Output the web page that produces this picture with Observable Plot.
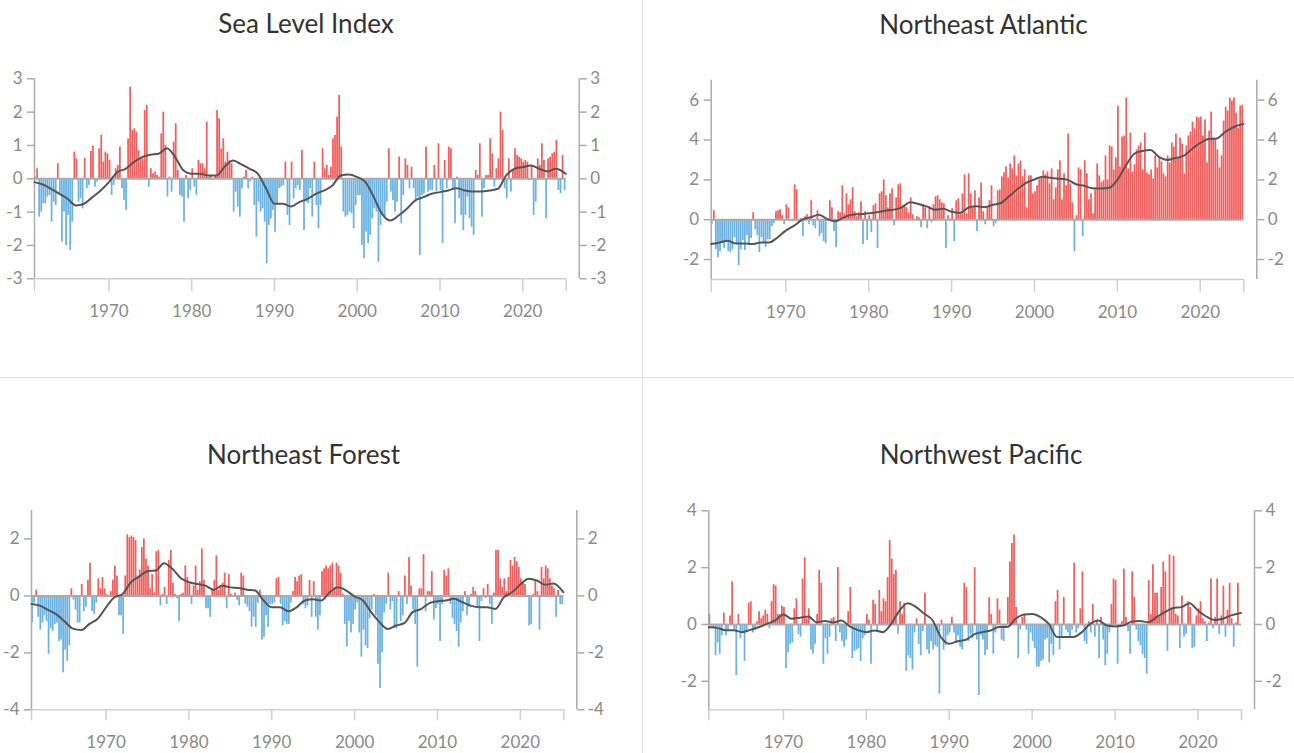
<!DOCTYPE html>
<html><head><meta charset="utf-8">
<script src="https://cdn.jsdelivr.net/npm/d3@7"></script>
<script src="https://cdn.jsdelivr.net/npm/@observablehq/plot@0.6"></script>
<style>
body{margin:0;background:#fff;font-family:Lato,"Open Sans",sans-serif;}
#root{position:relative;width:1294px;height:753px;overflow:hidden;background:#fff;}
.panel{position:absolute;}
.title{position:absolute;font-size:26px;color:#333;line-height:1;white-space:nowrap;transform:translateX(-50%);font-family:Lato,sans-serif;}
.vdiv{position:absolute;left:642px;top:0;width:1px;height:753px;background:#e2e2e2;}
.hdiv{position:absolute;left:0;top:377px;width:1294px;height:1px;background:#e2e2e2;}
</style></head><body><div id="root"><div class="vdiv"></div><div class="hdiv"></div></div>
<script>
// ---------- data ----------
const startYear = 1961;            // first season bar: 1961, 4 seasons per year
const xDomain = [1961, 2025.25];
const xTicks = [1961, 1970, 1980, 1990, 2000, 2010, 2020, 2025.25];
const titles = ["Sea Level Index", "Northeast Atlantic", "Northeast Forest", "Northwest Pacific"];

const sliValues = [
 0.05,0.3,-1.15,-1.0, -0.75,-0.75,-0.55,-0.5, -1.3,-0.7,-0.8,0.45, -0.45,-1.9,-1.0,-2.0,
 -1.1,-2.15,-1.3,0.8, 0.6,-0.7,-0.6,-0.9, 0.62,-0.3,-0.2,0.82, 0.98,-0.25,-0.1,0.9,
 1.3,0.5,0.8,0.75, 0.55,-0.5,-0.2,0.3, 0.4,0.95,-0.3,-0.65, -0.95,1.2,2.75,1.45,
 1.5,1.4,0.85,0.6, 0.6,2.05,2.2,-0.25, 0.3,0.15,0.2,0.1, 0.05,1.35,2.0,1.0,
 -0.55,0.05,-0.4,1.1, 1.65,0.25,-0.5,-0.55, -1.3,0.1,-0.6,-0.35, 0.3,-0.25,-0.5,0.55,
 0.45,0.45,0.3,1.7, 0.05,0.1,-0.05,0.1, 2.05,1.8,0.9,1.2, 0.5,0.8,0.55,0.45,
 -1.0,-0.4,-0.85,-1.15, -0.3,0.05,0.25,-0.3, -0.1,0.05,-0.8,-1.75, -0.7,-1.0,-0.9,-1.3,
 -2.55,-1.4,-1.2,-0.95, -1.6,-0.8,-0.3,-0.25, -0.2,0.5,-1.1,-1.4, 0.5,-0.6,-0.3,-0.2,
 -0.35,0.85,-1.55,-0.7, -0.75,-0.3,-1.15,0.5, -0.8,-1.5,-0.8,0.9, 0.3,0.4,0.1,0.35,
 1.2,1.3,1.85,2.5, 0.95,-1.0,-1.15,-1.1, -1.0,-1.05,-1.5,-0.8, -0.5,-0.5,-2.0,-2.4,
 -1.6,-1.95,-1.7,-1.2, -0.9,-1.0,-2.5,-1.4, -1.1,-1.2,-0.7,0.9, -0.4,-0.65,-1.0,-0.7,
 0.65,-1.35,-0.5,0.6, 0.4,-0.3,0.35,-0.3, -0.7,-0.55,-2.3,-0.5, -0.45,0.95,-0.4,-0.35,
 -0.35,0.4,-0.4,1.05, -0.35,-1.95,0.55,-0.3, 0.95,0.9,-0.3,-1.35, 0.05,-0.6,-1.1,-1.55,
 -1.1,-0.55,-1.2,-1.45, -1.7,0.25,0.1,1.05, -1.15,-0.3,0.1,0.1, 1.2,0.75,-0.25,0.3,
 0.6,2.0,1.45,-0.3, -0.6,0.6,-0.4,0.25, 0.9,0.7,0.65,0.6, 0.5,0.55,0.5,-0.05,
 0.4,-1.1,-0.7,0.6, 0.4,1.05,0.55,-1.2, 0.6,0.65,0.75,0.8, 1.15,-0.35,-0.45,0.7,
 -0.35
];
const neaValues = [
 -0.25,0.45,-1.5,-1.9, -1.6,-1.2,-1.45,-1.15, -1.6,-1.65,-1.5,-0.9, -1.2,-2.3,-1.5,-1.05,
 -1.55,-0.8,-1.3,-0.95, 0.35,-0.5,-0.8,-1.65, -0.9,-1.15,-1.4,-1.0, -1.0,-0.35,-0.2,0.4,
 0.45,0.5,0.2,-0.25, 0.75,0.6,-0.1,-0.1, 1.75,1.5,-0.15,0.05, -0.85,0.15,0.25,-0.25,
 0.95,-0.3,-0.45,0.45, -0.85,-0.7,-1.1,-1.2, 0.05,0.95,0.6,-0.6, -1.4,0.4,0.35,1.7,
 0.3,1.3,0.75,1.0, 1.6,0.4,0.15,0.35, 0.9,-1.25,0.4,-1.05, 0.2,-0.65,0.7,0.8,
 -1.45,1.3,1.4,2.0, 1.2,0.6,1.3,1.55, -0.3,1.1,1.75,1.8, 0.7,0.75,0.6,0.35,
 1.1,0.25,-0.05,0.15, 0.1,-0.4,0.75,0.6, -0.45,0.65,-0.15,0.75, 1.15,1.2,1.0,0.85,
 0.8,-1.45,0.2,-0.1, 0.55,-1.1,0.95,1.05, 0.35,1.3,2.25,0.3, 2.3,1.3,0.6,1.45,
 -0.6,1.1,1.85,0.4, -0.25,0.6,0.95,1.7, -0.35,-0.2,1.45,1.5, 2.15,2.35,2.65,2.1,
 2.8,2.55,3.2,2.2, 2.8,2.95,2.15,2.5, 0.6,2.2,2.2,1.3, 1.4,1.7,2.0,2.1,
 2.45,2.25,2.4,1.8, 2.55,1.0,1.6,2.5, 2.95,1.0,2.3,1.7, 4.3,1.8,0.85,-1.6,
 0.2,2.6,2.5,-0.85, 2.95,2.3,1.0,1.3, 0.3,1.5,2.8,2.2, 1.85,1.95,3.2,2.0,
 3.7,3.65,2.5,3.1, 5.7,2.65,4.15,4.2, 6.1,2.55,4.35,2.4, 2.75,3.5,3.7,3.85,
 2.5,4.35,2.35,2.25, 2.5,2.05,3.2,2.6, 3.1,2.9,2.3,2.15, 3.2,2.85,3.85,3.65,
 4.3,3.1,4.1,3.8, 2.3,3.7,4.2,4.4, 4.9,4.55,5.15,5.1, 5.15,4.2,5.0,2.85,
 4.45,5.4,4.1,4.05, 3.5,2.6,3.2,4.95, 5.65,5.45,6.1,5.95, 6.1,5.35,4.6,5.7,
 5.75
];
const nefValues = [
 -0.95,-0.25,0.2,-0.75,-1.2,-0.95,-0.7,-0.9,-2.05,-1.15,
 -1.25,-1.0,-0.95,-1.6,-1.55,-2.7,-1.9,-2.3,-1.75,0.25,
 -0.15,-0.5,-0.95,-0.95,0.4,-0.55,-0.4,0.55,1.15,-0.55,
 -0.65,-0.25,0.6,0.25,0.65,0.25,0.05,-0.05,0.15,0.55,
 1.05,0.7,-0.7,-0.7,-1.35,0.7,2.15,2.05,2.1,2.05,
 1.95,0.7,0.9,1.7,2.0,1.3,1.05,0.25,0.75,0.1,
 1.55,1.6,-0.35,0.05,0.3,-0.3,1.25,1.6,0.45,0.05,
 -0.1,-0.9,0.05,0.1,1.05,0.65,0.4,-0.3,0.35,1.05,
 0.2,0.5,1.65,0.55,-0.45,-0.45,-0.75,0.25,0.55,1.4,
 0.2,0.3,0.45,0.8,-0.45,0.75,0.05,-0.05,0.1,-0.15,
 -0.35,0.8,0.7,-0.3,-0.4,-0.55,-1.1,-0.75,-1.1,-0.25,
 0.2,-1.55,-1.45,-0.7,-1.1,-0.3,-0.3,-0.25,0.6,0.65,
 -0.3,-1.05,-0.9,-1.0,-1.0,-0.25,0.15,0.65,0.5,0.7,
 0.75,-0.3,-0.45,-0.35,0.55,-0.75,0.5,-0.75,-1.2,-0.7,
 0.85,0.95,1.05,0.95,1.05,1.15,0.3,1.15,1.05,0.8,
 0.05,-1.0,-1.8,-0.9,-1.3,-1.0,-0.5,-0.25,-1.3,-2.15,
 -1.2,-1.75,-1.85,-0.8,-0.5,0.05,-0.7,-2.4,-3.25,-2.0,
 -0.6,-0.3,0.8,-0.5,-0.2,-1.15,-1.15,0.15,-0.9,-0.7,
 0.7,-0.3,1.35,0.35,-0.5,-1.0,-2.5,0.25,0.25,1.45,
 -0.55,0.15,0.15,0.85,-0.85,-0.45,-0.3,-1.6,-0.3,0.9,
 0.7,0.95,-0.3,-0.8,-1.0,-1.25,-1.8,-0.95,-0.55,0.15,
 -0.7,-0.4,0.05,0.3,0.15,-0.4,-1.6,-0.2,0.25,-0.1,
 0.4,-0.3,-1.0,0.1,1.6,1.6,0.6,0.3,0.6,0.15,
 0.65,1.25,1.05,1.35,1.2,1.0,0.6,0.45,0.4,-0.05,
 -1.05,-1.0,0.05,0.55,0.15,-1.2,1.0,0.6,1.05,0.95,
 0.6,0.35,0.25,-0.75,0.2,-0.3,-0.3
];
const nwpValues = [
 0.35,-0.1,-0.15,-1.1,-0.65,-1.05,-0.4,0.4,-0.4,-0.2,
 0.3,1.5,-0.2,-1.8,0.35,-0.5,-0.3,-1.3,-0.25,0.75,
 0.8,-0.3,-0.2,0.1,0.45,0.2,0.3,0.5,0.35,-0.15,
 0.8,1.4,1.35,0.35,0.35,0.65,0.6,-1.55,-1.0,-0.7,
 -0.65,0.55,0.9,-0.35,-0.45,1.6,2.35,0.2,0.55,-0.9,
 -1.05,-0.7,0.35,1.9,1.45,-1.4,-0.5,-1.05,-0.45,0.2,
 0.25,-0.6,2.0,-0.3,-0.6,-0.8,-0.55,0.45,1.3,-1.2,
 -0.95,-0.9,-0.85,-1.3,-0.5,-0.4,0.35,0.15,-1.4,0.85,
 0.7,-0.25,1.2,0.45,0.9,0.8,1.65,2.95,2.3,1.75,
 1.9,-0.35,0.8,0.35,0.75,-1.65,-1.1,-1.2,-1.6,-0.3,
 0.2,-0.7,-1.1,-0.25,1.1,-0.9,-1.05,-0.6,-0.9,-0.75,
 -0.8,-2.45,0.15,-0.9,-0.75,-0.4,-0.3,0.25,-0.3,-0.65,
 -0.4,-0.8,-0.9,1.45,1.3,-0.6,-0.35,-0.5,2.0,-0.55,
 -2.5,-0.4,-0.55,-1.1,-0.9,0.95,0.35,-1.05,-0.3,0.9,
 0.5,-0.55,-0.6,-0.1,0.95,2.2,2.85,3.15,0.6,-1.2,
 -0.2,0.25,0.35,-0.2,-1.05,-0.3,-0.6,-0.85,-1.5,-1.5,
 -1.3,-1.25,-0.55,-0.5,-1.35,-0.7,-1.1,0.8,1.2,-0.9,
 -0.5,0.95,-0.2,-0.3,-0.5,-0.2,2.15,-0.3,-0.15,0.55,
 1.85,-0.6,-0.7,0.1,-0.3,0.7,-0.45,0.15,-1.2,0.25,
 -0.55,-1.45,-1.05,-0.3,0.7,1.6,1.55,-1.4,-0.1,0.1,
 1.95,0.25,-0.25,-1.05,1.85,0.95,-0.2,-0.6,-0.75,-1.05,
 -1.2,-1.75,1.55,0.35,2.1,1.1,1.1,0.25,1.3,2.2,
 1.85,-0.95,2.45,0.55,2.4,0.35,0.3,-0.85,1.0,-0.45,
 -0.35,0.8,0.6,-0.85,-0.8,0.3,0.55,0.8,0.2,0.1,
 -0.6,0.05,1.6,-0.15,0.25,1.6,-0.35,0.3,1.35,-0.45,
 0.5,1.45,0.2,-0.8,0.05,1.45
];

const trendYears = [
 1961,1962,1963,1964,1965,1966,1967,1968,1969,1970,1971,1972,1973,1974,1975,1976,
 1977,1978,1979,1980,1981,1982,1983,1984,1985,1986,1987,1988,1989,1990,1991,1992,
 1993,1994,1995,1996,1997,1998,1999,2000,2001,2002,2003,2004,2005,2006,2007,2008,
 2009,2010,2011,2012,2013,2014,2015,2016,2017,2018,2019,2020,2021,2022,2023,2024,2025.2
];
const sliTrend = [
 -0.1,-0.17,-0.3,-0.45,-0.6,-0.8,-0.75,-0.55,-0.35,-0.1,0.2,0.3,0.5,0.65,0.72,0.75,
 0.92,0.65,0.25,0.15,0.15,0.1,0.1,0.37,0.55,0.43,0.3,0.15,-0.3,-0.75,-0.75,-0.83,
 -0.7,-0.6,-0.45,-0.35,-0.2,0.1,0.13,0.05,-0.1,-0.55,-1.05,-1.25,-1.1,-0.9,-0.65,-0.55,
 -0.45,-0.4,-0.35,-0.28,-0.35,-0.38,-0.38,-0.35,-0.3,0.1,0.3,0.35,0.4,0.3,0.22,0.3,0.15
];
const neaTrend = [
 -1.22,-1.14,-1.05,-1.19,-1.19,-1.22,-1.14,-1.14,-0.89,-0.55,-0.3,0.0,0.12,0.25,0.03,-0.08,
 0.12,0.25,0.28,0.32,0.37,0.45,0.5,0.62,0.87,0.79,0.67,0.5,0.55,0.4,0.35,0.6,
 0.67,0.63,0.75,0.85,1.2,1.55,1.85,2.02,2.15,2.1,2.05,2.0,1.78,1.7,1.58,1.57,
 1.6,2.0,2.7,3.3,3.45,3.5,3.15,3.0,3.1,3.2,3.55,3.85,4.05,4.08,4.4,4.65,4.8
];
const nefTrend = [
 -0.28,-0.34,-0.49,-0.65,-0.9,-1.15,-1.2,-0.98,-0.8,-0.4,-0.05,0.07,0.48,0.68,0.87,0.89,
 1.15,0.95,0.63,0.48,0.42,0.36,0.21,0.36,0.3,0.28,0.22,0.19,-0.16,-0.4,-0.4,-0.54,
 -0.4,-0.16,-0.12,-0.16,0.13,0.3,0.19,-0.02,-0.16,-0.57,-0.92,-1.16,-1.04,-0.96,-0.57,-0.46,
 -0.26,-0.19,-0.16,-0.1,-0.22,-0.34,-0.4,-0.4,-0.46,-0.05,0.13,0.4,0.6,0.54,0.39,0.44,0.13
];
const nwpTrend = [
 -0.1,-0.12,-0.2,-0.2,-0.27,-0.19,-0.1,0.02,0.14,0.35,0.2,0.24,0.28,0.08,0.12,0.07,
 0.14,-0.07,-0.2,-0.27,-0.21,-0.27,0.02,0.49,0.75,0.61,0.38,0.14,-0.45,-0.68,-0.59,-0.54,
 -0.35,-0.27,-0.21,-0.09,-0.09,0.2,0.35,0.37,0.26,0.02,-0.44,-0.44,-0.44,-0.27,0.02,0.14,
 -0.04,-0.07,-0.04,0.1,0.12,0.08,0.26,0.43,0.58,0.61,0.75,0.49,0.28,0.16,0.2,0.32,0.4
];

const sliTicks = [-3,-2,-1,0,1,2,3];
const neaTicks = [-2,0,2,4,6];
const nefTicks = [-4,-2,0,2];
const nwpTicks = [-2,0,2,4];

// ---------- layout & style ----------
const RED = "#f0605e", BLUE = "#6cb3e3", TREND = "#555555";
const AXIS = "#ababab", BASE = "#d0d0d0", LABEL = "#8a8a8a";

const panels = [
  {title: titles[0], values: sliValues, trend: sliTrend, yDomain: [-3, 3], ticks: sliTicks,
   left: 0, top: 0, w: 642, h: 377, ml: 34, mr: 76.3, mt: 78.3, mb: 98.7, tx: 306, ty: 10, xts: 13, xtp: 13},
  {title: titles[1], values: neaValues, trend: neaTrend, yDomain: [-3, 7], ticks: neaTicks,
   left: 642, top: 0, w: 652, h: 377, ml: 68.7, mr: 50.7, mt: 79.7, mb: 98, tx: 983.5, ty: 11, xts: 13, xtp: 13},
  {title: titles[2], values: nefValues, trend: nefTrend, yDomain: [-4, 3], ticks: nefTicks,
   left: 0, top: 378, w: 642, h: 375, ml: 31, mr: 78.7, mt: 132, mb: 43.7, tx: 303.5, ty: 441, xts: 11, xtp: 15},
  {title: titles[3], values: nwpValues, trend: nwpTrend, yDomain: [-3, 4], ticks: nwpTicks,
   left: 642, top: 378, w: 652, h: 375, ml: 66.3, mr: 53, mt: 132.3, mb: 43.8, tx: 981, ty: 441, xts: 11, xtp: 15}
];

const root = document.getElementById("root");
const fmtY = d => String(d);

for (const p of panels) {
  const bars = p.values.map((v, i) => ({t1: startYear + i / 4, t2: startYear + (i + 1) / 4, v, zero: 0}));
  const trend = trendYears.map((t, i) => ({t, v: p.trend[i]}));
  const chart = Plot.plot({
    width: p.w, height: p.h,
    marginLeft: p.ml, marginRight: p.mr, marginTop: p.mt, marginBottom: p.mb,
    x: {domain: xDomain, label: null},
    y: {domain: p.yDomain, label: null},
    style: {fontFamily: "Lato, sans-serif", fontSize: "17px", color: LABEL, background: "transparent", overflow: "visible"},
    marks: [
      Plot.rect(bars, {filter: d => d.v >= 0, x1: "t1", x2: "t2", y1: "zero", y2: "v", fill: RED, insetLeft: 0.15, insetRight: 0.15}),
      Plot.rect(bars, {filter: d => d.v < 0, x1: "t1", x2: "t2", y1: "zero", y2: "v", fill: BLUE, insetLeft: 0.15, insetRight: 0.15}),
      Plot.ruleY([0], {stroke: AXIS, strokeWidth: 2}),
      Plot.ruleY([p.yDomain[0]], {stroke: BASE, strokeWidth: 1.5}),
      Plot.ruleX([xDomain[0]], {stroke: AXIS, strokeWidth: 1.5}),
      Plot.ruleX([xDomain[1]], {dx: 13, stroke: AXIS, strokeWidth: 1.5}),
      Plot.line(trend, {x: "t", y: "v", stroke: TREND, strokeWidth: 2, curve: "monotone-x"}),
      Plot.axisY({anchor: "left", ticks: p.ticks, tickSize: 7, tickPadding: 5, tickFormat: fmtY, stroke: AXIS, strokeWidth: 1.5, fill: LABEL, label: null}),
      Plot.axisY({anchor: "right", ticks: p.ticks, tickSize: 7, tickPadding: 4, dx: 13, tickFormat: fmtY, stroke: AXIS, strokeWidth: 1.5, fill: LABEL, label: null}),
      Plot.axisX({anchor: "bottom", ticks: xTicks, tickSize: p.xts, tickPadding: p.xtp, tickFormat: d => (d % 10 === 0 ? String(d) : ""), stroke: BASE, strokeWidth: 1.5, fill: LABEL, label: null})
    ]
  });
  const wrap = document.createElement("div");
  wrap.className = "panel";
  wrap.style.left = p.left + "px";
  wrap.style.top = p.top + "px";
  wrap.appendChild(chart);
  root.appendChild(wrap);
  const t = document.createElement("div");
  t.className = "title";
  t.textContent = p.title;
  t.style.left = p.tx + "px";
  t.style.top = p.ty + "px";
  root.appendChild(t);
}
</script></body></html>
